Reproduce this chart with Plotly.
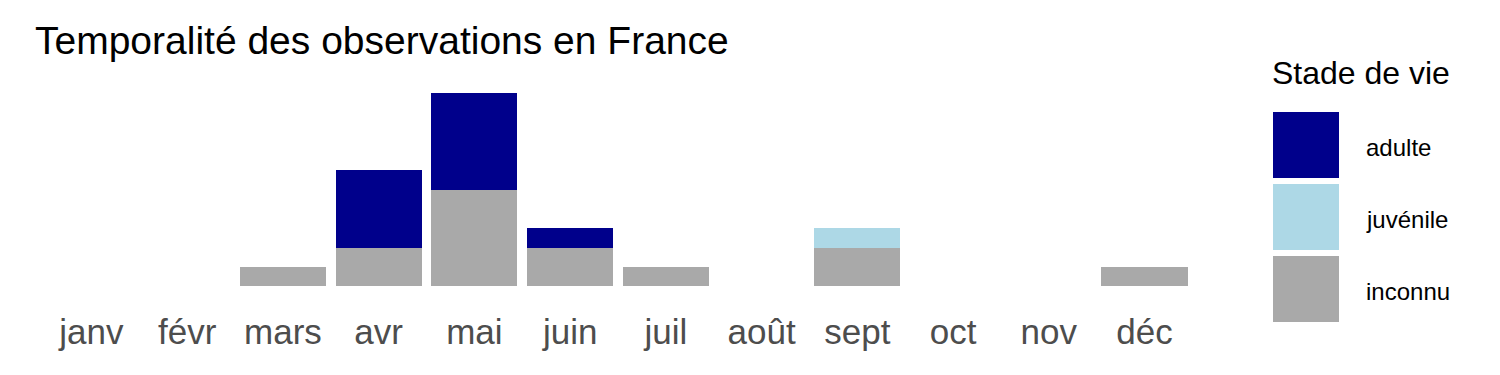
import plotly.graph_objects as go

months = ["janv", "févr", "mars", "avr", "mai", "juin", "juil", "août", "sept", "oct", "nov", "déc"]
inconnu = [0, 0, 1, 2, 5, 2, 1, 0, 2, 0, 0, 1]
juvenile = [0, 0, 0, 0, 0, 0, 0, 0, 1, 0, 0, 0]
adulte = [0, 0, 0, 4, 5, 1, 0, 0, 0, 0, 0, 0]

legend_names = ["adulte", "juvénile", "inconnu"]
legend_colors = ["#00008B", "#ADD8E6", "#A9A9A9"]
title_text = "Temporalité des observations en France"
legend_title = "Stade de vie"

FONT = "Liberation Sans, Arial, sans-serif"
W, H = 1500, 375

fig = go.Figure()
# stacking order: bottom first
for name, vals in [("inconnu", inconnu), ("juvénile", juvenile), ("adulte", adulte)]:
    col = legend_colors[legend_names.index(name)]
    fig.add_trace(go.Bar(x=months, y=vals, name=name, marker=dict(color=col, line=dict(width=0)),
                         width=0.9, showlegend=False, hoverinfo="x+y+name"))

# manual legend (large keys like ggplot)
PX0, PX1, PY0, PY1 = 34, 1202, 83, 296
def px(x):
    return (x - PX0) / (PX1 - PX0)
def py(y):
    return 1 - (y - PY0) / (PY1 - PY0)

shapes = []
annotations = []
key_x0, key_w = 1273, 66
key_y0, step = 112, 72
for i, (n, c) in enumerate(zip(legend_names, legend_colors)):
    y0 = key_y0 + i * step
    shapes.append(dict(type="rect", xref="paper", yref="paper",
                       x0=px(key_x0), x1=px(key_x0 + key_w),
                       y0=py(y0), y1=py(y0 + 66),
                       fillcolor=c, line=dict(width=0)))
    annotations.append(dict(text=n, xref="paper", yref="paper",
                            x=px(1364), y=py(y0 + 35),
                            xanchor="left", yanchor="middle", showarrow=False,
                            font=dict(family=FONT, size=24, color="black")))
annotations.append(dict(text=legend_title, xref="paper", yref="paper",
                        x=px(1270), y=py(73),
                        xanchor="left", yanchor="middle", showarrow=False,
                        font=dict(family=FONT, size=32, color="black")))

fig.update_layout(
    width=W, height=H,
    margin=dict(l=PX0, r=W - PX1, t=PY0, b=H - PY1, pad=0),
    barmode="stack",
    plot_bgcolor="white", paper_bgcolor="white",
    title=dict(text=title_text, xref="container", yref="container",
               x=35 / W, xanchor="left", y=1 - 40 / H, yanchor="middle",
               font=dict(family=FONT, size=39, color="black")),
    xaxis=dict(range=[-0.6, 11.6], showgrid=False, zeroline=False, showline=False,
               ticks="", tickfont=dict(family=FONT, size=35, color="#4D4D4D"),
               ticklabelstandoff=12, fixedrange=True),
    yaxis=dict(range=[-0.5, 10.5], showgrid=False, zeroline=False, showline=False,
               showticklabels=False, ticks="", fixedrange=True),
    shapes=shapes, annotations=annotations,
    showlegend=False,
)

fig.write_html("out.html")
